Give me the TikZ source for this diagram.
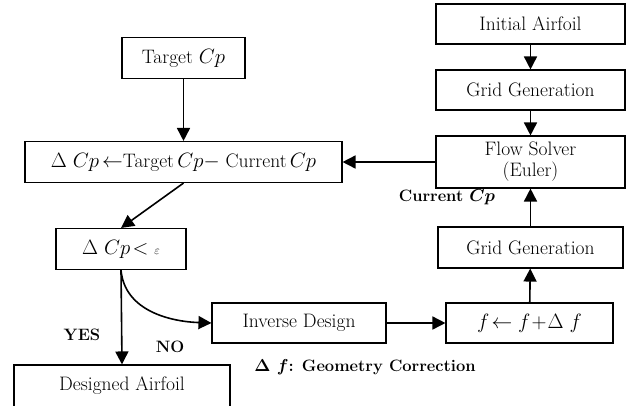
\documentclass[tikz,border=0pt]{standalone}
\usepackage{amsmath}
\usepackage{amssymb}
\usepackage{bm}
\usetikzlibrary{arrows.meta}
\usetikzlibrary{calc,positioning}

\begin{document}
\begin{tikzpicture}[x=1pt, y=-1pt,
    box/.style={draw, line width=1.1pt, inner sep=0pt, minimum height=41pt,
        font=\fontsize{19.5}{23}\selectfont},
    flow/.style={-{Triangle[length=13pt, width=13pt]}, line width=1.6pt},
    lbl/.style={font=\fontsize{16.5}{19}\selectfont\bfseries\boldmath}]

    % margens da figura
    \useasboundingbox (0,0) rectangle (639,405);

    % caixas do lado esquerdo
    \node[box, minimum width=123pt] (target) at (183.5,58) {Target \(Cp\)};
    \node[box, minimum width=317pt] (delta) at (183.5,162)
        {\(\Delta\ Cp\)\,\(\leftarrow\)Target\,\(Cp\)\(-\) Current\,\(Cp\)};
    \node[box, minimum width=130pt] (conv) at (121,249)
        {\(\Delta\ Cp\!<\) {\fontsize{12}{14}\selectfont\(\varepsilon\)}};
    \node[box, minimum width=216pt, minimum height=42pt] (designed) at (122,386) {Designed Airfoil};

    % caixas do lado direito
    \node[box, minimum width=189pt, minimum height=40pt] (initial) at (530.5,24) {Initial Airfoil};
    \node[box, minimum width=189pt, minimum height=40pt] (grid1) at (530.5,90) {Grid Generation};
    \node[box, minimum width=189pt, minimum height=52pt, align=center] (solver) at (530.5,162)
        {Flow Solver\\[-2pt](Euler)};
    \node[box, minimum width=185pt] (grid2) at (530.5,247.5) {Grid Generation};
    \node[box, minimum width=167pt, minimum height=40pt] (update) at (529.5,323)
        {\(f\!\leftarrow f\!+\!\Delta\ f\)};
    \node[box, minimum width=174pt, minimum height=40pt] (inverse) at (299,323) {Inverse Design};

    % setas
    \draw[flow] (target) -- (delta);
    \draw[flow] (delta.south) -- (conv.north);
    \draw[flow] (conv.south) -- (designed.north);
    \draw[flow] (conv.south) to[out=-85, in=178] (inverse.west);
    \draw[flow] (inverse) -- (update);
    \draw[flow] (update) -- (grid2);
    \draw[flow] (grid2) -- (solver);
    \draw[flow] (initial) -- (grid1);
    \draw[flow] (grid1) -- (solver);
    \draw[flow] (solver) -- (delta);

    % rótulos
    \node[lbl] (yes) at (82,335) {YES};
    \node[lbl] (no) at (170,347) {NO};
    \node[lbl] (current) at (447,197) {Current \(Cp\)};
    \node[lbl] (correction) at (365,367) {\(\Delta\ f\): Geometry Correction};
\end{tikzpicture}
\end{document}
